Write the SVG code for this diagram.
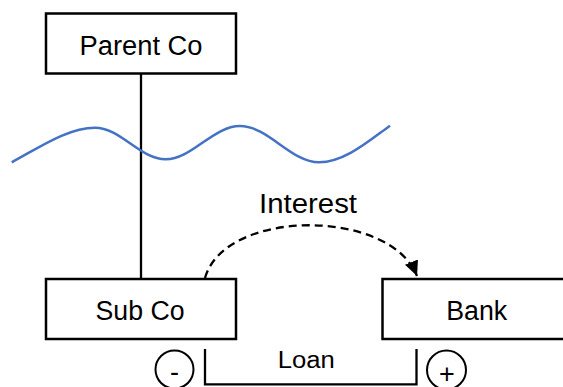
<svg xmlns="http://www.w3.org/2000/svg" width="563" height="387" viewBox="0 0 563 387">
  <style>
    .box { fill: #ffffff; stroke: #000000; stroke-width: 2.5; }
    .lbl { font-family: "Liberation Sans", Arial, sans-serif; font-size: 27px; fill: #000000; text-anchor: middle; }
    .line { fill: none; stroke: #000000; stroke-width: 2.3; }
    .dash { fill: none; stroke: #000000; stroke-width: 2.3; stroke-dasharray: 8 5; }
    .wave { fill: none; stroke: #4472C4; stroke-width: 2.5; }
    .ring { fill: none; stroke: #000000; stroke-width: 2; }
  </style>
  <defs>
    <marker id="arrow" markerUnits="userSpaceOnUse" markerWidth="16" markerHeight="14" refX="15" refY="7" orient="auto">
      <path d="M0,0 L15,7 L0,14 Z" fill="#000000"/>
    </marker>
  </defs>

  <rect width="563" height="387" fill="#ffffff"/>

  <!-- connectors -->
  <g id="connectors">
    <line class="line" x1="141" y1="73.5" x2="141" y2="279"/>
    <path class="dash" d="M205,278 C225,208 390,208 417,276" marker-end="url(#arrow)"/>
    <polyline class="line" points="205,349 205,384.3 416.5,384.3 416.5,349"/>
  </g>

  <!-- boundary wave -->
  <path id="wave" class="wave" d="M11.7,162.3 C40,147 68,127.7 95,127.7 C120.5,127.7 140.2,159.3 165.7,159.3 C192,159.3 213,126 240,126 C268,126 291,162.3 319,162.3 C345,162.3 370,140 390,125.7"/>

  <g id="parent-co">
    <rect class="box" x="46" y="13.5" width="190" height="60"/>
    <text class="lbl" x="141" y="55" textLength="123" lengthAdjust="spacingAndGlyphs">Parent Co</text>
  </g>

  <g id="sub-co">
    <rect class="box" x="46" y="279" width="190" height="60"/>
    <text class="lbl" x="140" y="320" textLength="89" lengthAdjust="spacingAndGlyphs">Sub Co</text>
  </g>

  <g id="bank">
    <rect class="box" x="382.5" y="279" width="190" height="60"/>
    <text class="lbl" x="476.7" y="319.5" textLength="61" lengthAdjust="spacingAndGlyphs">Bank</text>
  </g>

  <g id="interest-label">
    <text class="lbl" x="308" y="213.3" textLength="98" lengthAdjust="spacingAndGlyphs">Interest</text>
  </g>

  <g id="loan-label">
    <text class="lbl" x="306.3" y="368.3" style="font-size:23px" textLength="57" lengthAdjust="spacingAndGlyphs">Loan</text>
  </g>

  <g id="minus-sign">
    <circle class="ring" cx="174.5" cy="369.5" r="19"/>
    <text class="lbl" x="174.5" y="380.5">-</text>
  </g>

  <g id="plus-sign">
    <circle class="ring" cx="446.5" cy="370" r="19.5"/>
    <text class="lbl" x="447" y="382.5">+</text>
  </g>
</svg>
